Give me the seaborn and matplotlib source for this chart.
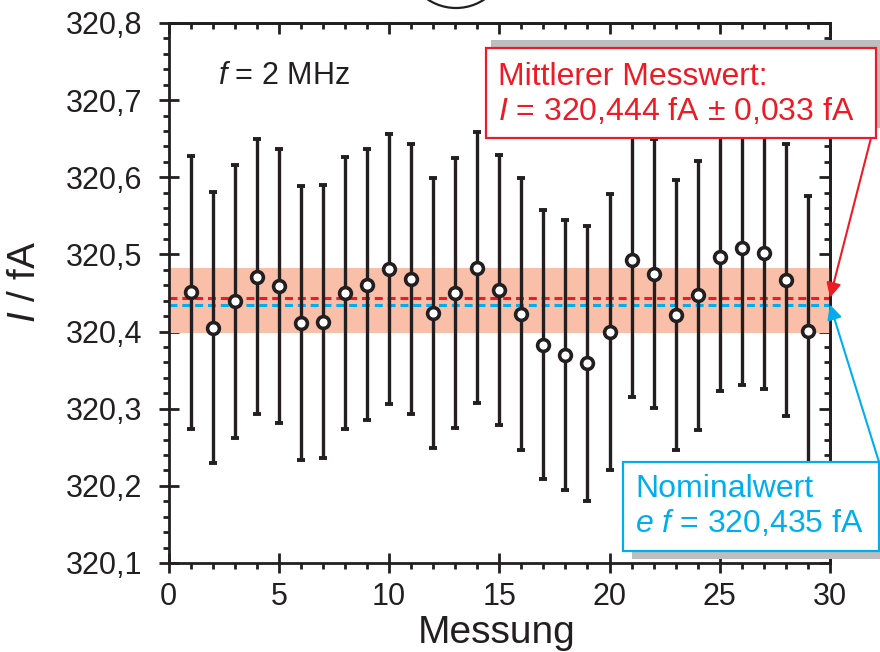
import numpy as np
import pandas as pd
import matplotlib
matplotlib.use("Agg")
import matplotlib.pyplot as plt
from matplotlib.patches import Rectangle, Ellipse
from matplotlib.ticker import MultipleLocator, FixedLocator, FixedFormatter
import seaborn as sns

# --- data -------------------------------------------------------------
measurement = list(range(1, 30))
current = [320.451, 320.405, 320.439, 320.471, 320.459, 320.411, 320.413,
           320.450, 320.461, 320.481, 320.468, 320.424, 320.450, 320.483,
           320.454, 320.423, 320.383, 320.369, 320.359, 320.399, 320.493,
           320.475, 320.422, 320.447, 320.497, 320.508, 320.502, 320.467,
           320.401]
uncertainty = [0.177, 0.176, 0.177, 0.178, 0.178, 0.178, 0.177, 0.176,
               0.176, 0.175, 0.175, 0.175, 0.175, 0.176, 0.175, 0.176,
               0.174, 0.175, 0.178, 0.179, 0.178, 0.174, 0.175, 0.174,
               0.174, 0.177, 0.176, 0.176, 0.175]
mean_value = 320.444
nominal_value = 320.435
band_low, band_high = 320.398, 320.482

xticks = [0, 5, 10, 15, 20, 25, 30]
xtick_labels = ["0", "5", "10", "15", "20", "25", "30"]
yticks = [320.1, 320.2, 320.3, 320.4, 320.5, 320.6, 320.7, 320.8]
ytick_labels = ["320,1", "320,2", "320,3", "320,4", "320,5", "320,6", "320,7", "320,8"]

df = pd.DataFrame({"Messung": measurement, "I": current, "err": uncertainty})

# --- style ------------------------------------------------------------
sns.set_theme(style="ticks")
plt.rcParams["font.family"] = ["Liberation Sans", "DejaVu Sans"]
plt.rcParams["mathtext.fontset"] = "custom"
plt.rcParams["mathtext.rm"] = "Liberation Sans"
plt.rcParams["mathtext.it"] = "Liberation Sans:italic"

RED = "#ED1C24"
BLUE = "#00AEEF"
BAND = "#F9BFA9"
INK = "#231F20"
SHADOW = "#BCBEC0"

W, H = 880, 652
fig = plt.figure(figsize=(W / 100, H / 100), dpi=100)


def fx(px):
    return px / W


def fy(py):
    return 1 - py / H


ax = fig.add_axes([fx(168.6), fy(563), (830 - 168.6) / W, (563 - 23) / H])

# band, reference lines, measurements
ax.axhspan(band_low, band_high, color=BAND, lw=0, zorder=1)
ax.axhline(mean_value, color=RED, lw=2.2, ls=(0, (2.6, 1.6)), zorder=2)
ax.axhline(nominal_value, color=BLUE, lw=2.2, ls=(0, (2.6, 1.6)), zorder=2)
ax.errorbar(df["Messung"], df["I"], yerr=df["err"], fmt="none",
            ecolor=INK, elinewidth=2.4, capsize=2.6, capthick=2.8, zorder=3)
sns.scatterplot(data=df, x="Messung", y="I", ax=ax, marker="o", s=72,
                color="white", edgecolor=INK, linewidth=2.6, zorder=4,
                legend=False)

ax.set_xlim(0, 30)
ax.set_ylim(320.1, 320.8)

# axes, ticks
for sp in ax.spines.values():
    sp.set_linewidth(2.0)
    sp.set_color(INK)
ax.xaxis.set_major_locator(FixedLocator(xticks))
ax.xaxis.set_major_formatter(FixedFormatter(xtick_labels))
ax.yaxis.set_major_locator(FixedLocator(yticks))
ax.yaxis.set_major_formatter(FixedFormatter(ytick_labels))
ax.xaxis.set_minor_locator(MultipleLocator(1))
ax.yaxis.set_minor_locator(MultipleLocator(0.02))
ax.tick_params(which="major", direction="inout", length=14, width=2,
               color=INK, labelsize=22, labelcolor=INK)
ax.tick_params(axis="x", which="major", pad=7)
ax.tick_params(axis="y", which="major", pad=12)
ax.tick_params(which="minor", direction="out", length=4, width=2, color=INK)

top = ax.secondary_xaxis("top")
top.xaxis.set_major_locator(FixedLocator(xticks))
top.xaxis.set_minor_locator(MultipleLocator(1))
top.tick_params(which="major", direction="in", length=8, width=2, color=INK,
                labeltop=False)
top.tick_params(which="minor", direction="in", length=4, width=2, color=INK)
top.spines["top"].set_linewidth(2.0)

right = ax.secondary_yaxis("right")
right.yaxis.set_major_locator(FixedLocator(yticks))
right.yaxis.set_minor_locator(MultipleLocator(0.02))
right.tick_params(which="major", direction="in", length=8, width=2, color=INK,
                  labelright=False)
right.tick_params(which="minor", direction="in", length=4, width=2, color=INK)
right.spines["right"].set_linewidth(2.0)

ax.set_xlabel("Messung", fontsize=28, color=INK)
ax.set_ylabel("$I$ / fA", fontsize=28, color=INK)
ax.xaxis.set_label_coords(0.4965, -0.097)
ax.yaxis.set_label_coords(-0.19, 0.52)

fig.text(fx(218), fy(84), "$f$ = 2 MHz", fontsize=22, color=INK,
         ha="left", va="baseline")

# mean value box
fig.add_artist(Rectangle((fx(491), fy(128)), (885 - 491) / W, (128 - 40) / H,
                         transform=fig.transFigure, fc=SHADOW, ec="none"))
fig.add_artist(Rectangle((fx(486), fy(138)), (876 - 486) / W, (138 - 48) / H,
                         transform=fig.transFigure, fc="white", ec=RED, lw=1.6))
fig.text(fx(498), fy(85), "Mittlerer Messwert:", fontsize=23, color=RED,
         ha="left", va="baseline")
fig.text(fx(498), fy(120), "$I$ = 320,444 fA ± 0,033 fA", fontsize=23,
         color=RED, ha="left", va="baseline")

# nominal value box
fig.add_artist(Rectangle((fx(632), fy(559)), (885 - 632) / W, (559 - 470) / H,
                         transform=fig.transFigure, fc=SHADOW, ec="none"))
fig.add_artist(Rectangle((fx(623), fy(551)), (879 - 623) / W, (551 - 462) / H,
                         transform=fig.transFigure, fc="white", ec=BLUE, lw=1.6))
fig.text(fx(635), fy(497), "Nominalwert", fontsize=23, color=BLUE,
         ha="left", va="baseline")
fig.text(fx(635), fy(532), "$e$ $f$ = 320,435 fA", fontsize=23, color=BLUE,
         ha="left", va="baseline")

# arrows pointing at the reference lines on the right axis
ax.annotate("", xy=(30, mean_value), xycoords="data",
            xytext=(fx(871), fy(138)), textcoords="figure fraction",
            arrowprops=dict(arrowstyle="-|>", color=RED, lw=1.5,
                            mutation_scale=22, shrinkA=0, shrinkB=0),
            annotation_clip=False, zorder=6)
ax.annotate("", xy=(30, nominal_value), xycoords="data",
            xytext=(fx(879), fy(462)), textcoords="figure fraction",
            arrowprops=dict(arrowstyle="-|>", color=BLUE, lw=1.5,
                            mutation_scale=22, shrinkA=0, shrinkB=0),
            annotation_clip=False, zorder=6)

# panel marker circle at the top edge
fig.add_artist(Ellipse((fx(456), fy(-43)), 2 * 51 / W, 2 * 51 / H,
                       transform=fig.transFigure, fc="none", ec=INK, lw=1.6))

fig.savefig("out.png", dpi=100)
